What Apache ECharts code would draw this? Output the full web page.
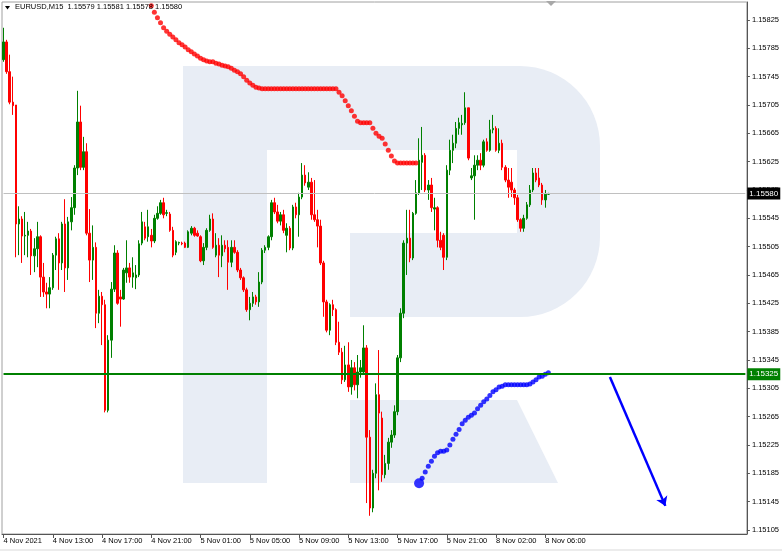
<!DOCTYPE html>
<html><head><meta charset="utf-8">
<script src="https://cdn.jsdelivr.net/npm/echarts@6/dist/echarts.min.js"></script>
<style>html,body{margin:0;padding:0;background:#fff;}#c{width:782px;height:551px;}</style>
</head><body><div id="c"></div>
<script>
const symbolName = 'EURUSD,M15';
const lastQuote = ['1.15579', '1.15581', '1.15578', '1.15580'];
const xTickLabels = ['4 Nov 2021', '4 Nov 13:00', '4 Nov 17:00', '4 Nov 21:00', '5 Nov 01:00', '5 Nov 05:00', '5 Nov 09:00', '5 Nov 13:00', '5 Nov 17:00', '5 Nov 21:00', '8 Nov 02:00', '8 Nov 06:00'];
const barsPerLabel = 16;
const yTickValues = [1.15105, 1.15145, 1.15185, 1.15225, 1.15265, 1.15305, 1.15345, 1.15385, 1.15425, 1.15465, 1.15505, 1.15545, 1.15585, 1.15625, 1.15665, 1.15705, 1.15745, 1.15785, 1.15825];
const totalSlots = 242;

const opens = [1.15769,1.15794,1.15752,1.15709,1.15705,1.15537,1.15544,1.15520,1.15521,1.15527,1.15492,1.15502,1.15519,1.15462,1.15441,1.15438,1.15447,1.15493,1.15516,1.15482,
1.15537,1.15475,1.15540,1.15560,1.15616,1.15681,1.15617,1.15639,1.15524,1.15486,1.15504,1.15411,1.15435,1.15423,1.15274,1.15373,1.15445,1.15496,1.15434,1.15431,
1.15468,1.15475,1.15462,1.15461,1.15465,1.15510,1.15533,1.15519,1.15521,1.15513,1.15545,1.15552,1.15567,1.15552,1.15551,1.15528,1.15497,1.15510,1.15510,1.15510,
1.15504,1.15524,1.15531,1.15524,1.15519,1.15485,1.15504,1.15528,1.15544,1.15493,1.15507,1.15492,1.15507,1.15504,1.15483,1.15504,1.15497,1.15472,1.15461,1.15444,
1.15416,1.15425,1.15434,1.15427,1.15455,1.15500,1.15504,1.15519,1.15567,1.15554,1.15541,1.15550,1.15521,1.15531,1.15503,1.15561,1.15550,1.15575,1.15606,1.15589,
1.15596,1.15550,1.15543,1.15534,1.15482,1.15427,1.15387,1.15423,1.15416,1.15370,1.15356,1.15317,1.15338,1.15307,1.15334,1.15310,1.15328,1.15328,1.15362,1.15236,
1.15136,1.15185,1.15296,1.15263,1.15183,1.15199,1.15229,1.15239,1.15272,1.15348,1.15411,1.15510,1.15517,1.15489,1.15552,1.15581,1.15624,1.15634,1.15585,1.15592,
1.15558,1.15560,1.15514,1.15521,1.15490,1.15613,1.15641,1.15651,1.15672,1.15677,1.15680,1.15701,1.15602,1.15605,1.15620,1.15627,1.15620,1.15653,1.15641,1.15670,
1.15672,1.15641,1.15651,1.15617,1.15599,1.15596,1.15585,1.15574,1.15543,1.15531,1.15545,1.15564,1.15585,1.15609,1.15602,1.15592,1.15571,1.15579];

const closes = [1.15794,1.15752,1.15709,1.15704,1.15537,1.15544,1.15520,1.15521,1.15527,1.15492,1.15502,1.15519,1.15462,1.15441,1.15438,1.15447,1.15493,1.15516,1.15482,1.15537,
1.15475,1.15540,1.15560,1.15616,1.15681,1.15617,1.15639,1.15524,1.15486,1.15504,1.15411,1.15435,1.15423,1.15274,1.15373,1.15445,1.15496,1.15425,1.15431,1.15472,
1.15475,1.15462,1.15468,1.15465,1.15509,1.15540,1.15517,1.15533,1.15513,1.15545,1.15552,1.15567,1.15550,1.15553,1.15528,1.15493,1.15512,1.15511,1.15509,1.15504,
1.15526,1.15531,1.15521,1.15520,1.15485,1.15504,1.15528,1.15544,1.15504,1.15507,1.15493,1.15507,1.15502,1.15483,1.15504,1.15497,1.15472,1.15461,1.15444,1.15416,
1.15425,1.15434,1.15427,1.15455,1.15500,1.15504,1.15519,1.15567,1.15554,1.15541,1.15550,1.15528,1.15531,1.15503,1.15561,1.15550,1.15575,1.15606,1.15595,1.15596,
1.15550,1.15543,1.15534,1.15482,1.15427,1.15387,1.15423,1.15416,1.15370,1.15356,1.15317,1.15338,1.15307,1.15334,1.15310,1.15328,1.15334,1.15362,1.15236,1.15136,
1.15185,1.15296,1.15270,1.15183,1.15199,1.15229,1.15239,1.15272,1.15348,1.15411,1.15510,1.15517,1.15489,1.15552,1.15581,1.15627,1.15634,1.15585,1.15592,1.15560,
1.15560,1.15514,1.15504,1.15490,1.15613,1.15641,1.15651,1.15672,1.15680,1.15679,1.15701,1.15630,1.15605,1.15620,1.15627,1.15620,1.15653,1.15641,1.15670,1.15672,
1.15641,1.15651,1.15617,1.15599,1.15589,1.15585,1.15574,1.15543,1.15531,1.15545,1.15564,1.15585,1.15609,1.15599,1.15592,1.15571,1.15579,1.15580];

const highs = [1.15814,1.15797,1.15776,1.15745,1.15705,1.15562,1.15548,1.15554,1.15540,1.15530,1.15517,1.15540,1.15521,1.15482,1.15454,1.15462,1.15496,1.15519,1.15524,1.15540,
1.15572,1.15547,1.15575,1.15620,1.15725,1.15704,1.15660,1.15651,1.15558,1.15535,1.15511,1.15444,1.15441,1.15430,1.15380,1.15455,1.15507,1.15500,1.15444,1.15475,
1.15514,1.15482,1.15490,1.15479,1.15514,1.15554,1.15540,1.15557,1.15530,1.15550,1.15562,1.15571,1.15574,1.15557,1.15554,1.15533,1.15514,1.15512,1.15512,1.15512,
1.15528,1.15534,1.15533,1.15528,1.15521,1.15510,1.15531,1.15550,1.15552,1.15524,1.15517,1.15521,1.15514,1.15514,1.15514,1.15514,1.15500,1.15475,1.15463,1.15447,
1.15434,1.15441,1.15437,1.15469,1.15503,1.15507,1.15521,1.15571,1.15574,1.15564,1.15554,1.15557,1.15538,1.15534,1.15564,1.15567,1.15581,1.15623,1.15620,1.15610,
1.15602,1.15599,1.15557,1.15543,1.15485,1.15430,1.15425,1.15430,1.15418,1.15399,1.15362,1.15365,1.15370,1.15345,1.15342,1.15352,1.15345,1.15394,1.15366,1.15246,
1.15190,1.15312,1.15359,1.15272,1.15211,1.15235,1.15246,1.15281,1.15352,1.15418,1.15514,1.15557,1.15557,1.15554,1.15599,1.15658,1.15674,1.15637,1.15599,1.15602,
1.15574,1.15562,1.15526,1.15524,1.15620,1.15656,1.15663,1.15681,1.15687,1.15691,1.15723,1.15701,1.15616,1.15634,1.15634,1.15637,1.15656,1.15658,1.15684,1.15691,
1.15675,1.15672,1.15656,1.15620,1.15616,1.15616,1.15588,1.15578,1.15545,1.15550,1.15568,1.15592,1.15616,1.15616,1.15616,1.15595,1.15585,1.15581];

const lows = [1.15766,1.15749,1.15706,1.15691,1.15490,1.15493,1.15482,1.15493,1.15490,1.15465,1.15469,1.15476,1.15434,1.15434,1.15418,1.15418,1.15444,1.15472,1.15444,1.15472,
1.15441,1.15458,1.15528,1.15550,1.15606,1.15613,1.15613,1.15521,1.15455,1.15458,1.15390,1.15397,1.15366,1.15271,1.15271,1.15348,1.15441,1.15423,1.15392,1.15430,
1.15454,1.15454,1.15447,1.15445,1.15462,1.15507,1.15514,1.15512,1.15504,1.15510,1.15543,1.15550,1.15545,1.15548,1.15526,1.15490,1.15493,1.15507,1.15507,1.15503,
1.15503,1.15521,1.15519,1.15519,1.15483,1.15479,1.15500,1.15526,1.15502,1.15490,1.15462,1.15476,1.15497,1.15444,1.15476,1.15495,1.15469,1.15458,1.15441,1.15413,
1.15401,1.15420,1.15423,1.15420,1.15452,1.15496,1.15500,1.15514,1.15551,1.15538,1.15535,1.15524,1.15497,1.15500,1.15500,1.15545,1.15519,1.15572,1.15591,1.15585,
1.15543,1.15540,1.15504,1.15479,1.15406,1.15384,1.15380,1.15407,1.15366,1.15352,1.15311,1.15314,1.15300,1.15296,1.15302,1.15291,1.15320,1.15324,1.15143,1.15125,
1.15130,1.15178,1.15161,1.15173,1.15178,1.15190,1.15221,1.15235,1.15267,1.15342,1.15404,1.15465,1.15483,1.15486,1.15550,1.15578,1.15585,1.15582,1.15571,1.15554,
1.15528,1.15504,1.15500,1.15472,1.15486,1.15606,1.15623,1.15644,1.15663,1.15663,1.15677,1.15627,1.15599,1.15543,1.15613,1.15613,1.15617,1.15639,1.15639,1.15665,
1.15639,1.15637,1.15613,1.15596,1.15574,1.15575,1.15564,1.15540,1.15526,1.15526,1.15543,1.15561,1.15582,1.15596,1.15589,1.15564,1.15560,1.15578];

const redStart = 48;
const redDots = [1.15845,1.15836,1.15828,1.15821,1.15814,1.15809,1.15805,1.15801,1.15797,1.15793,1.15790,1.15787,1.15783,1.15780,1.15777,1.15774,1.15771,1.15769,1.15767,1.15766,
1.15766,1.15764,1.15763,1.15761,1.15760,1.15759,1.15757,1.15754,1.15752,1.15749,1.15745,1.15740,1.15736,1.15733,1.15730,1.15729,
1.15728,1.15728,1.15728,1.15728,1.15728,1.15728,1.15728,1.15728,1.15728,1.15728,1.15728,1.15728,1.15728,1.15728,1.15728,1.15728,1.15728,1.15728,1.15728,1.15728,1.15728,1.15728,1.15728,1.15728,1.15728,
1.15723,1.15718,1.15711,1.15704,1.15697,1.15689,1.15682,
1.15680,1.15680,1.15680,1.15680,
1.15672,1.15665,1.15661,1.15658,1.15650,1.15641,1.15633,1.15626,
1.15623,1.15623,1.15623,1.15623,1.15623,1.15623,1.15623];

const blueStart = 135;
const blueDots = [1.15171,1.15178,1.15187,1.15195,1.15202,1.15209,1.15214,1.15216,1.15216,1.15218,1.15225,1.15233,1.15240,1.15247,1.15255,1.15260,1.15264,1.15267,1.15270,1.15276,
1.15281,1.15286,1.15290,1.15295,1.15300,1.15303,1.15307,1.15308,
1.15310,1.15310,1.15310,1.15310,1.15310,1.15310,1.15310,1.15310,
1.15311,1.15314,1.15317,1.15321,1.15322,1.15325,1.15327];

const currentPrice = 1.15580;
const levelPrice = 1.15325;
const arrowFrom = [197, 1.15321];
const arrowTo = [215, 1.15139];

const categories = Array.from({length: totalSlots}, (_, i) => String(i));
const ohlc = opens.map((o, i) => [o, closes[i], lows[i], highs[i]]);
const redData = redDots.map((v, k) => [redStart + k, v]);
const blueData = blueDots.map((v, k) => [blueStart + k, v]);
const lastLabelIdx = (xTickLabels.length - 1) * barsPerLabel;
const showX = (idx) => idx % barsPerLabel === 0 && idx <= lastLabelIdx;

const FONT = 'Liberation Sans';
const FS = 7.5;
const WM = '#e8edf5';

const priceTag = (bg, txt) => ({show: true, position: 'end', distance: 2, formatter: txt, color: '#fff', backgroundColor: bg, padding: [2, 2, 2, 2], fontSize: 8, fontFamily: FONT});
const hLine = (price, color, width, bg) => [
  {coord: [0, price], lineStyle: {color: color, width: width, type: 'solid'}, label: priceTag(bg, price.toFixed(5))},
  {coord: [totalSlots - 1, price]}
];

const chart = echarts.init(document.getElementById('c'), null, {renderer: 'canvas'});
chart.setOption({
  animation: false,
  backgroundColor: '#ffffff',
  grid: {left: 2, right: 35, top: 2, bottom: 17, show: true, borderColor: '#a0a0a0', borderWidth: 1, backgroundColor: 'transparent'},
  graphic: [
    {type: 'rect', z: -10, silent: true, shape: {x: 183, y: 66, width: 417, height: 251, r: [0, 80, 80, 0]}, style: {fill: WM}},
    {type: 'rect', z: -9, silent: true, shape: {x: 267, y: 150, width: 250, height: 83}, style: {fill: '#ffffff'}},
    {type: 'rect', z: -9, silent: true, shape: {x: 267, y: 233, width: 83, height: 84}, style: {fill: '#ffffff'}},
    {type: 'rect', z: -8, silent: true, shape: {x: 183, y: 66, width: 84, height: 417}, style: {fill: WM}},
    {type: 'polygon', z: -8, silent: true, shape: {points: [[350, 400], [517, 400], [558, 483], [350, 483]]}, style: {fill: WM}},
    {type: 'polygon', z: 50, silent: true, shape: {points: [[5, 6], [10, 6], [7.5, 9.5]]}, style: {fill: '#000'}},
    {type: 'text', z: 50, silent: true, left: 15, top: 3, style: {text: symbolName + '  ' + lastQuote.join(' '), font: FS + 'px "' + FONT + '"', fill: '#000'}},
    {type: 'polygon', z: 50, silent: true, shape: {points: [[546, 1], [556, 1], [551, 6]]}, style: {fill: '#a8a8a8'}},
    {type: 'rect', z: 50, silent: true, shape: {x: 0, y: 549, width: 782, height: 2}, style: {fill: '#ececec'}}
  ],
  xAxis: {
    type: 'category', data: categories, boundaryGap: true,
    axisLine: {show: true, lineStyle: {color: '#555', width: 1}},
    axisTick: {show: true, alignWithLabel: true, interval: (i) => showX(i), length: 4, lineStyle: {color: '#555'}},
    axisLabel: {show: true, interval: (i) => showX(i), formatter: (v, i) => xTickLabels[Math.round(i / barsPerLabel)], align: 'left', margin: 3, color: '#000', fontSize: FS, fontFamily: FONT},
    splitLine: {show: false}
  },
  yAxis: {
    type: 'value', position: 'right', scale: true, min: 1.150993, max: 1.158504,
    axisLine: {show: true, lineStyle: {color: '#555', width: 1}},
    axisTick: {show: true, customValues: yTickValues, length: 3, lineStyle: {color: '#555'}},
    axisLabel: {show: true, customValues: yTickValues, formatter: (v) => v.toFixed(5), margin: 5, color: '#000', fontSize: FS, fontFamily: FONT},
    splitLine: {show: false}
  },
  series: [
    {
      type: 'candlestick', data: ohlc, barWidth: 2, z: 3,
      itemStyle: {color: '#008000', color0: '#ff0000', borderColor: '#008000', borderColor0: '#ff0000', borderWidth: 1}
    },
    {
      type: 'scatter', data: redData, symbol: 'circle', symbolSize: 5, itemStyle: {color: '#ff0000'}, z: 4, silent: true,
      markLine: {
        silent: true, symbol: ['none', 'none'], animation: false,
        data: [hLine(currentPrice, '#c0c0c0', 1, '#000'), hLine(levelPrice, '#008000', 2, '#008000')]
      }
    },
    {
      type: 'scatter', data: blueData, symbol: 'circle', z: 4, silent: true,
      symbolSize: (v, p) => p.dataIndex === 0 ? 10 : 5,
      itemStyle: {color: '#0000ff'},
      markLine: {
        silent: true, animation: false, symbol: ['none', 'arrow'], symbolSize: 9,
        lineStyle: {color: '#0000ff', width: 2.5, type: 'solid'}, label: {show: false},
        data: [[{coord: arrowFrom}, {coord: arrowTo}]]
      }
    }
  ]
});
</script></body></html>
